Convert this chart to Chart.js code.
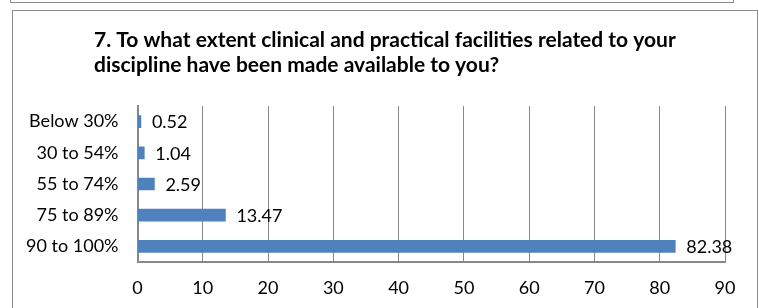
<!DOCTYPE html>
<html>
<head>
<meta charset="utf-8">
<script src="https://cdn.jsdelivr.net/npm/chart.js@4/dist/chart.umd.min.js"></script>
<style>
  html, body { margin: 0; padding: 0; background: #fff; }
  #wrap { position: relative; width: 759px; height: 308px; overflow: hidden; }
  .box { position: absolute; border: 1.5px solid #8c8c8c; box-sizing: border-box; }
  #c { position: absolute; left: 0; top: 0; }
</style>
</head>
<body>
<div id="wrap">
  <div class="box" style="left:10px; top:-20px; width:724px; height:23px;"></div>
  <div class="box" style="left:12px; top:10px; width:746px; height:320px;"></div>
  <canvas id="c" width="759" height="308"></canvas>
</div>
<script>
const titleLines = [
  "7. To what extent clinical and practical facilities related to your",
  "discipline have been made available to you?"
];
const categories = ["Below 30%", "30 to 54%", "55 to 74%", "75 to 89%", "90 to 100%"];
const values = [0.52, 1.04, 2.59, 13.47, 82.38];
const xTicks = [0, 10, 20, 30, 40, 50, 60, 70, 80, 90];

const FONT = "Lato, 'Open Sans', sans-serif";

const titlePlugin = {
  id: 'leftTitle',
  afterDraw(chart) {
    const ctx = chart.ctx;
    ctx.save();
    ctx.fillStyle = '#000';
    ctx.font = "bold 21px " + FONT;
    ctx.textAlign = 'left';
    ctx.textBaseline = 'alphabetic';
    ctx.fillText(titleLines[0], 94, 46.5);
    ctx.fillText(titleLines[1], 94, 71.5);
    ctx.restore();
  }
};

const labelPlugin = {
  id: 'barLabels',
  afterDatasetsDraw(chart) {
    const ctx = chart.ctx;
    const meta = chart.getDatasetMeta(0);
    ctx.save();
    ctx.fillStyle = '#000';
    ctx.font = "18px " + FONT;
    ctx.textAlign = 'left';
    ctx.textBaseline = 'middle';
    meta.data.forEach((bar, i) => {
      ctx.fillText(values[i].toFixed(2), bar.x + 11, bar.y + 1);
    });
    ctx.restore();
  }
};

new Chart(document.getElementById('c'), {
  type: 'bar',
  data: {
    labels: categories,
    datasets: [{
      data: values,
      backgroundColor: '#4f81bd',
      borderWidth: 0,
      barThickness: 12
    }]
  },
  plugins: [titlePlugin, labelPlugin],
  options: {
    indexAxis: 'y',
    responsive: false,
    animation: false,
    devicePixelRatio: 1,
    layout: { padding: { top: 106, right: 34, left: 0, bottom: 0 } },
    plugins: { legend: { display: false }, tooltip: { enabled: false }, title: { display: false } },
    scales: {
      x: {
        min: 0, max: 90,
        afterBuildTicks(scale) { scale.ticks = xTicks.map(v => ({ value: v })); },
        afterFit(scale) { scale.height = 46; },
        grid: { color: '#888888', lineWidth: 1, drawTicks: false },
        border: { display: true, color: '#888888', width: 2 },
        ticks: { color: '#000', font: { family: FONT, size: 18 }, padding: 15 }
      },
      y: {
        afterFit(scale) { scale.width = 137.5; },
        grid: { display: false, drawTicks: false },
        border: { display: true, color: '#888888', width: 2 },
        ticks: { color: '#000', font: { family: FONT, size: 18 }, padding: 19 }
      }
    }
  }
});
</script>
</body>
</html>
